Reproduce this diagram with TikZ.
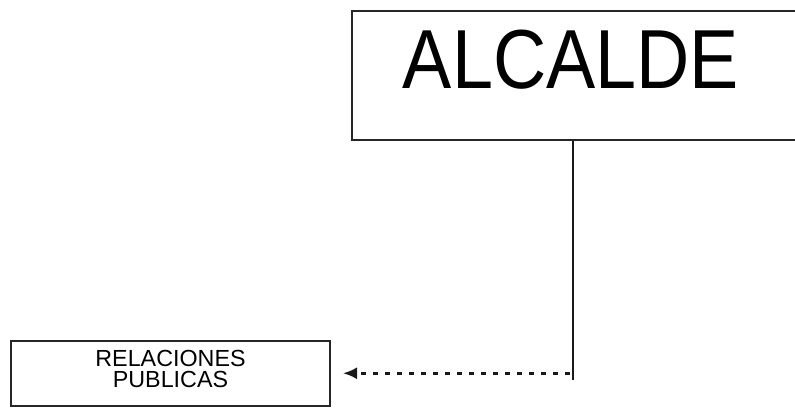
\documentclass[tikz,border=0pt]{standalone}
\usepackage{fontspec}
\setmainfont{Liberation Sans}
\usetikzlibrary{arrows.meta,calc}
\begin{document}
\begin{tikzpicture}[x=1pt,y=1pt,
  boxstyle/.style={draw=black!85, line width=2pt, rectangle, inner sep=0pt},
  linkstyle/.style={line width=2pt, black!90},
  flowstyle/.style={line width=2.6pt, black!90, dash pattern=on 5pt off 7pt,
    -{Latex[length=14pt,width=12pt]}}]
\useasboundingbox (0,0) rectangle (795,-410);
\clip (0,0) rectangle (795,-410);
\node[boxstyle, minimum width=448pt, minimum height=129pt,
      text height=60pt, text depth=34pt,
      font=\fontsize{83.8}{90}\selectfont] (alcalde) at (576,-75)
  {\scalebox{0.88}[1]{ALCALDE}\kern10pt};
\node[boxstyle, minimum width=319pt, minimum height=64.5pt, align=center,
      font=\fontsize{23.3}{21}\selectfont] (rel) at (170.5,-373.25)
  {RELACIONES\\PUBLICAS\rule[-8pt]{0pt}{8pt}};
\coordinate (corner) at (572.5,-380);
\draw[linkstyle] (alcalde.south -| corner) -- (corner);
\draw[flowstyle] ($(corner |- rel.east)+(-3,0)$) -- ($(rel.east)+(12,0)$);
\end{tikzpicture}
\end{document}
